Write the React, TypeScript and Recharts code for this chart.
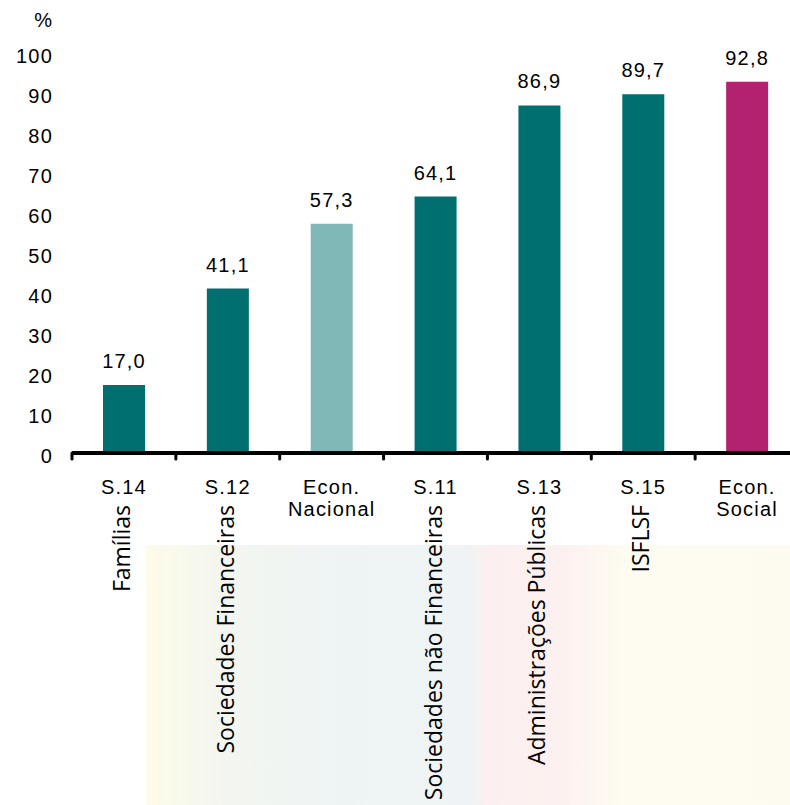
import React from "react"
import { BarChart, Bar, XAxis, YAxis, Cell, LabelList, Label } from "recharts"

const categories = ["S.14", "S.12", "Econ.\nNacional", "S.11", "S.13", "S.15", "Econ.\nSocial"]
const sectorNames = [
  "Famílias",
  "Sociedades Financeiras",
  "",
  "Sociedades não Financeiras",
  "Administrações Públicas",
  "ISFLSF",
  "",
]
const shares = [17.0, 41.1, 57.3, 64.1, 86.9, 89.7, 92.8]
const barKinds = ["sector", "sector", "national", "sector", "sector", "sector", "social"]
const yTicks = [0, 10, 20, 30, 40, 50, 60, 70, 80, 90, 100]

const kindColors: Record<string, string> = {
  sector: "#006f6f",
  national: "#80b8b8",
  social: "#b3226f",
}

const data = categories.map((cat, i) => ({
  cat,
  sector: sectorNames[i],
  value: shares[i],
  kind: barKinds[i],
}))

const CHART_W = 799
const CHART_H = 805
const AXIS_Y = 453
const BAND = (CHART_W - 72) / categories.length
const ARIAL = "Liberation Sans, Arial, sans-serif"

function CategoryTick(props: any) {
  const { x, y, payload } = props
  const i = payload.index
  const lines = String(categories[i]).split("\n")
  const sector = sectorNames[i]
  const left = x - BAND / 2
  return (
    <g>
      <line x1={left} y1={y} x2={left} y2={y + 6} stroke="#000" strokeWidth={3} strokeLinecap="round" />
      {lines.map((ln, k) => (
        <text
          key={k}
          x={x}
          y={y + 41 + k * 22}
          textAnchor="middle"
          fontSize={20}
          letterSpacing={1.2}
          fontFamily={ARIAL}
          fill="#000"
        >
          {ln}
        </text>
      ))}
      {sector && (
        <text
          x={x + 6}
          y={y + 52}
          transform={`rotate(-90 ${x + 6} ${y + 52})`}
          textAnchor="end"
          fontSize={23}
          fontFamily="Open Sans, sans-serif"
          fill="#000"
        >
          {sector}
        </text>
      )}
    </g>
  )
}

export default function App() {
  return (
    <div style={{ position: "absolute", left: 0, top: 0, width: 790, height: 805, overflow: "hidden", background: "#fff" }}>
      <div
        style={{
          position: "absolute",
          left: 146,
          top: 545,
          width: 644,
          height: 260,
          background:
            "linear-gradient(90deg, #fdfbe9 0%, #f3f6ef 12%, #eef4f4 30%, #eff3f5 50%, #fcefef 53%, #fdf1f0 65%, #fefcf0 75%, #fdfaf0 100%)",
        }}
      />
      <div style={{ position: "absolute", left: 0, top: 0 }}>
        <BarChart
          width={CHART_W}
          height={CHART_H}
          data={data}
          margin={{ top: 53, right: 0, left: 0, bottom: 0 }}
          barCategoryGap={0}
        >
          <YAxis
            type="number"
            domain={[0, 100]}
            ticks={yTicks}
            width={72}
            axisLine={false}
            tickLine={false}
            tickMargin={14}
            tick={{ fontSize: 20, fill: "#000", fontFamily: ARIAL, letterSpacing: 1.2, dy: 3, dx: 1 }}
            interval={0}
          >
            <Label
              content={() => (
                <text x={52} y={27} textAnchor="end" fontSize={20} fill="#000" fontFamily={ARIAL}>
                  %
                </text>
              )}
            />
          </YAxis>
          <XAxis
            dataKey="cat"
            height={CHART_H - AXIS_Y}
            axisLine={{ stroke: "#000", strokeWidth: 4 }}
            tickLine={false}
            tickSize={0}
            tickMargin={0}
            interval={0}
            tick={<CategoryTick />}
          />
          <Bar dataKey="value" barSize={42} isAnimationActive={false}>
            {data.map((d, i) => (
              <Cell key={i} fill={kindColors[d.kind]} />
            ))}
            <LabelList
              dataKey="value"
              position="top"
              offset={17}
              fill="#000"
              fontSize={20}
              letterSpacing={1.2}
              fontFamily={ARIAL}
              formatter={(v: any) => Number(v).toFixed(1).replace(".", ",")}
            />
          </Bar>
        </BarChart>
      </div>
    </div>
  )
}
